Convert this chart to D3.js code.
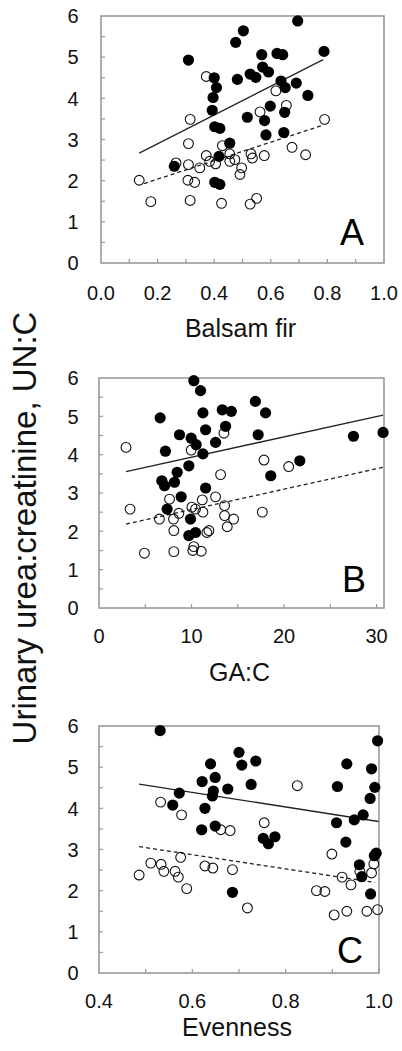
<!DOCTYPE html>
<html><head><meta charset="utf-8">
<script src="https://cdn.jsdelivr.net/npm/d3@7"></script>
<style>html,body{margin:0;padding:0;background:#fff;} svg{display:block;font-family:"Liberation Sans",Arial,sans-serif;}</style>
</head><body>
<svg id="chart" width="402" height="1051"></svg>
<script>
// ---------- DATA ----------
const yTickLabels = [0,1,2,3,4,5,6];
const xTickLabelsA = [0.0,0.2,0.4,0.6,0.8,1.0];
const xTickLabelsB = [0,10,20,30];
const xTickLabelsC = [0.4,0.6,0.8,1.0];

// Panel A: Balsam fir
const filledA = [[0.695,5.88],[0.503,5.64],[0.476,5.36],[0.309,4.93],[0.568,5.06],[0.622,5.09],[0.642,5.06],[0.788,5.14],
 [0.527,4.59],[0.547,4.51],[0.571,4.76],[0.592,4.64],[0.482,4.46],[0.400,4.50],[0.408,4.26],[0.396,4.02],[0.393,3.71],
 [0.636,4.42],[0.651,4.26],[0.690,4.37],[0.731,4.07],[0.598,3.81],[0.649,3.66],[0.517,3.54],[0.578,3.46],[0.402,3.31],
 [0.420,3.27],[0.583,3.11],[0.646,3.17],[0.455,2.91],[0.417,2.59],[0.259,2.35],[0.402,1.96],[0.420,1.91]];
const openA = [[0.135,2.01],[0.176,1.49],[0.315,3.49],[0.309,2.90],[0.309,2.39],[0.265,2.43],[0.307,2.01],[0.331,1.96],
 [0.315,1.52],[0.349,2.31],[0.372,4.53],[0.372,2.61],[0.384,2.47],[0.405,2.41],[0.429,2.85],[0.426,1.45],[0.455,2.65],
 [0.455,2.47],[0.473,2.51],[0.491,2.15],[0.497,2.31],[0.527,1.43],[0.550,1.57],[0.530,2.65],[0.535,2.55],[0.577,2.61],
 [0.562,3.67],[0.618,4.18],[0.655,3.83],[0.675,2.81],[0.723,2.63],[0.790,3.49]];
const fitFilledA = [[0.135,2.67],[0.785,4.94]];
const fitOpenA = [[0.152,1.93],[0.785,3.35]];

// Panel B: GA:C
const filledB = [[10.25,5.93],[10.97,5.67],[6.61,4.96],[11.23,5.09],[13.32,5.17],[14.30,5.13],[16.9,5.39],[18.0,5.09],
 [11.52,4.65],[13.68,4.74],[8.70,4.52],[9.96,4.43],[17.2,4.52],[12.6,4.32],[10.5,4.26],[7.18,4.09],[11.23,4.02],
 [9.71,3.71],[8.45,3.54],[6.79,3.32],[7.08,3.19],[8.16,3.28],[11.52,3.13],[18.56,3.45],[21.7,3.84],[27.5,4.48],
 [30.7,4.58],[8.88,2.90],[7.36,2.58],[9.89,2.32],[9.71,1.89],[10.43,1.97]];
const openB = [[2.92,4.19],[3.36,2.58],[4.91,1.43],[6.53,2.32],[7.62,2.84],[8.05,2.32],[8.09,2.02],[8.09,1.47],
 [8.63,2.47],[9.96,4.12],[10.04,2.63],[10.43,2.58],[11.16,2.82],[11.23,2.50],[10.14,1.50],[10.25,1.60],[11.05,1.48],
 [11.66,1.97],[11.88,2.02],[12.6,2.90],[13.14,3.48],[13.57,2.67],[13.57,2.41],[13.86,2.12],[14.55,2.32],[13.5,4.56],
 [17.65,2.50],[17.83,3.86],[20.5,3.69]];
const fitFilledB = [[2.92,3.56],[30.7,5.03]];
const fitOpenB = [[2.92,2.19],[30.7,3.67]];

// Panel C: Evenness
const filledC = [[0.531,5.89],[0.997,5.64],[0.700,5.36],[0.706,5.05],[0.736,5.15],[0.639,5.08],[0.621,4.65],[0.649,4.75],
 [0.726,4.58],[0.676,4.47],[0.645,4.42],[0.643,4.30],[0.572,4.37],[0.558,4.08],[0.627,4.00],[0.620,3.48],[0.649,3.57],
 [0.752,3.27],[0.763,3.14],[0.777,3.31],[0.686,1.96],[0.931,5.08],[0.911,4.53],[0.984,4.96],[0.991,4.51],[0.981,4.24],
 [0.966,3.84],[0.947,3.72],[0.909,3.65],[0.929,3.18],[0.994,2.91],[0.958,2.63],[0.963,2.34],[0.982,1.92],[0.990,2.85]];
const openC = [[0.486,2.38],[0.511,2.67],[0.533,2.64],[0.539,2.47],[0.563,2.47],[0.570,2.33],[0.588,2.05],[0.575,2.81],
 [0.532,4.15],[0.577,3.84],[0.627,2.60],[0.644,2.55],[0.661,3.48],[0.681,3.46],[0.686,2.51],[0.718,1.58],[0.754,3.65],
 [0.825,4.55],[0.866,2.00],[0.884,1.98],[0.899,2.89],[0.904,1.41],[0.921,2.33],[0.931,1.50],[0.940,2.14],[0.974,1.50],
 [0.997,1.54],[0.984,2.43],[0.989,2.65],[0.959,2.47]];
const fitFilledC = [[0.486,4.59],[0.999,3.68]];
const fitOpenC = [[0.486,3.07],[0.991,2.20]];

const xTitles = ["Balsam fir","GA:C","Evenness"];
const panelLetters = ["A","B","C"];
const yTitle = "Urinary urea:creatinine, UN:C";

// ---------- LAYOUT ----------
const panels = [
 {box:[101,16,384,263], xDom:[0,1], xMinor:d3.range(0.1,1.0001,0.1), xLabels:xTickLabelsA, fmt:d3.format(".1f"),
  filled:filledA, open:openA, fitF:fitFilledA, fitO:fitOpenA, labY:300, titleY:337, letterX:352, letterY:245},
 {box:[99,378,384,608], xDom:[0,30.8], xMinor:d3.range(5,30.01,5), xLabels:xTickLabelsB, fmt:d3.format("d"),
  filled:filledB, open:openB, fitF:fitFilledB, fitO:fitOpenB, labY:643, titleY:681, letterX:354, letterY:592},
 {box:[99,726,379,973], xDom:[0.4,1.0], xMinor:d3.range(0.5,1.0001,0.1), xLabels:xTickLabelsC, fmt:d3.format(".1f"),
  filled:filledC, open:openC, fitF:fitFilledC, fitO:fitOpenC, labY:1008, titleY:1036, letterX:350, letterY:963}
];

const svg = d3.select("#chart");
const axisGrey = "#9a9a9a";

panels.forEach((p,i) => {
  const [L,T,R,B] = p.box;
  const x = d3.scaleLinear().domain(p.xDom).range([L,R]);
  const y = d3.scaleLinear().domain([0,6]).range([B,T]);
  const g = svg.append("g");

  g.append("rect").attr("x",L).attr("y",T).attr("width",R-L).attr("height",B-T)
    .attr("fill","none").attr("stroke",axisGrey).attr("stroke-width",1.6);

  g.selectAll(".yt").data(d3.range(0.5,6,0.5)).join("line")
    .attr("x1",L).attr("x2",L+4).attr("y1",d=>y(d)).attr("y2",d=>y(d))
    .attr("stroke",axisGrey).attr("stroke-width",1.2);
  g.selectAll(".xt").data(p.xMinor).join("line")
    .attr("x1",d=>x(d)).attr("x2",d=>x(d)).attr("y1",B).attr("y2",B-4)
    .attr("stroke",axisGrey).attr("stroke-width",1.2);

  g.selectAll(".yl").data(yTickLabels).join("text")
    .attr("x",73).attr("y",d=>y(d)).attr("dy","0.36em").attr("text-anchor","middle")
    .attr("font-size",20).attr("fill","#111").text(d=>d);
  g.selectAll(".xl").data(p.xLabels).join("text")
    .attr("x",d=>x(d)).attr("y",p.labY).attr("text-anchor","middle")
    .attr("font-size",20).attr("fill","#111").text(d=>p.fmt(d));
  g.append("text").attr("x",(L+R)/2 - 2).attr("y",p.titleY).attr("text-anchor","middle")
    .attr("font-size",25).attr("fill","#111").text(xTitles[i]);
  g.append("text").attr("x",p.letterX).attr("y",p.letterY).attr("text-anchor","middle")
    .attr("font-size",36).attr("fill","#000").text(panelLetters[i]);

  const line = d3.line().x(d=>x(d[0])).y(d=>y(d[1]));
  g.append("path").attr("d",line(p.fitF)).attr("fill","none").attr("stroke","#222").attr("stroke-width",1.3);
  g.append("path").attr("d",line(p.fitO)).attr("fill","none").attr("stroke","#222").attr("stroke-width",1.3)
    .attr("stroke-dasharray","4,3");

  g.selectAll(".op").data(p.open).join("circle")
    .attr("cx",d=>x(d[0])).attr("cy",d=>y(d[1])).attr("r",4.9)
    .attr("fill","none").attr("stroke","#111").attr("stroke-width",1.1);
  g.selectAll(".fp").data(p.filled).join("circle")
    .attr("cx",d=>x(d[0])).attr("cy",d=>y(d[1])).attr("r",5.6)
    .attr("fill","#000");
});

svg.append("text").attr("transform","translate(36,528) rotate(-90)").attr("text-anchor","middle")
  .attr("font-size",33).attr("fill","#111").text(yTitle);
</script>
</body></html>
